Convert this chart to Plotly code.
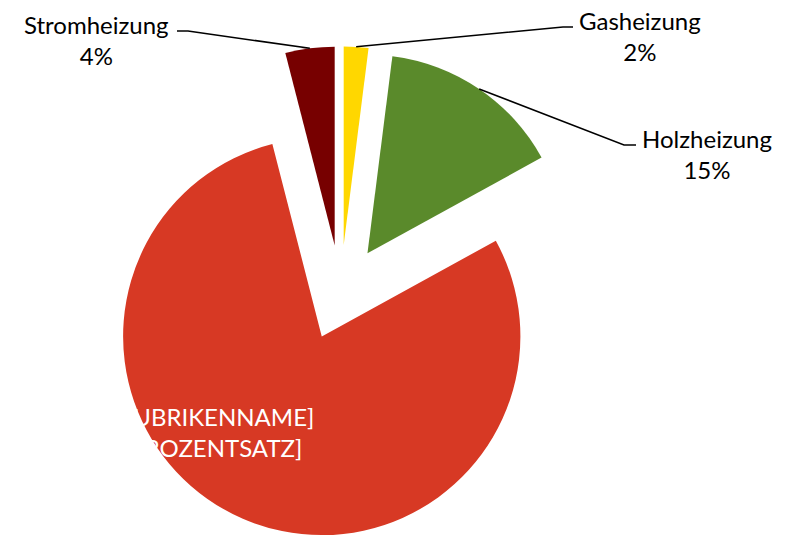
import math
import plotly.graph_objects as go

# ---- data ----
categories = ["Gasheizung", "Holzheizung", "[RUBRIKENNAME]", "Stromheizung"]
values = [2, 15, 79, 4]
colors = ["#FFD700", "#5A8A2B", "#D73924", "#770000"]
pct_labels = ["2%", "15%", "[PROZENTSATZ]", "4%"]

W, H = 785, 539
PULL = 0.24
DOM_X = [0.096, 0.772]
DOM_Y = [0.0, 0.914]
FONT = "Lato"
FS = 24

fig = go.Figure(go.Pie(
    labels=categories,
    values=values,
    marker=dict(colors=colors, line=dict(width=0)),
    sort=False,
    direction="clockwise",
    rotation=0,
    pull=[PULL] * len(values),
    textinfo="none",
    hoverinfo="label+percent",
    showlegend=False,
    domain=dict(x=DOM_X, y=DOM_Y),
))

# pie geometry (pixels) derived from the domain
cx = (DOM_X[0] + DOM_X[1]) / 2 * W
cy = (1 - (DOM_Y[0] + DOM_Y[1]) / 2) * H
r = min((DOM_X[1] - DOM_X[0]) * W, (DOM_Y[1] - DOM_Y[0]) * H) / 2 / (1 + PULL)

total = sum(values)
mids = []
acc = 0
for v in values:
    mids.append((acc + v / 2) / total * 360)
    acc += v


def to_paper(px, py):
    return px / W, 1 - py / H


def arc_point(i):
    t = math.radians(mids[i])
    d = r * (1 + PULL)
    return cx + d * math.sin(t), cy - d * math.cos(t)


# outside labels: (index, label center px, elbow start px, elbow end px)
outside = [
    (0, (640, 36), (573, 27), (563, 27)),
    (1, (707, 154), (636, 145), (624, 145)),
    (3, (96, 40), (177, 31), (188, 31)),
]

shapes = []
annotations = []
for i, (lx, ly), (ex0, ey0), (ex1, ey1) in outside:
    ax_, ay_ = arc_point(i)
    p0 = to_paper(ex0, ey0)
    p1 = to_paper(ex1, ey1)
    p2 = to_paper(ax_, ay_)
    shapes.append(dict(
        type="path", xref="paper", yref="paper",
        path=f"M{p0[0]},{p0[1]} L{p1[0]},{p1[1]} L{p2[0]},{p2[1]}",
        line=dict(color="black", width=1.5),
    ))
    tx, ty = to_paper(lx, ly)
    annotations.append(dict(
        x=tx, y=ty, xref="paper", yref="paper",
        text=f"{categories[i]}<br>{pct_labels[i]}",
        showarrow=False, align="center",
        xanchor="center", yanchor="middle",
        font=dict(family=FONT, size=FS, color="#000000"),
    ))

# inside label for the large slice
tx, ty = to_paper(212, 432)
annotations.append(dict(
    x=tx, y=ty, xref="paper", yref="paper",
    text=f"{categories[2]}<br>{pct_labels[2]}",
    showarrow=False, align="center",
    xanchor="center", yanchor="middle",
    font=dict(family=FONT, size=FS, color="#FFFFFF"),
))

fig.update_layout(
    width=W, height=H,
    margin=dict(l=0, r=0, t=0, b=0),
    paper_bgcolor="white",
    plot_bgcolor="white",
    shapes=shapes,
    annotations=annotations,
)

fig.write_html(
    "out.html",
    config={"displayModeBar": False},
    post_script="document.body.style.margin='0px';document.body.style.overflow='hidden';",
)
